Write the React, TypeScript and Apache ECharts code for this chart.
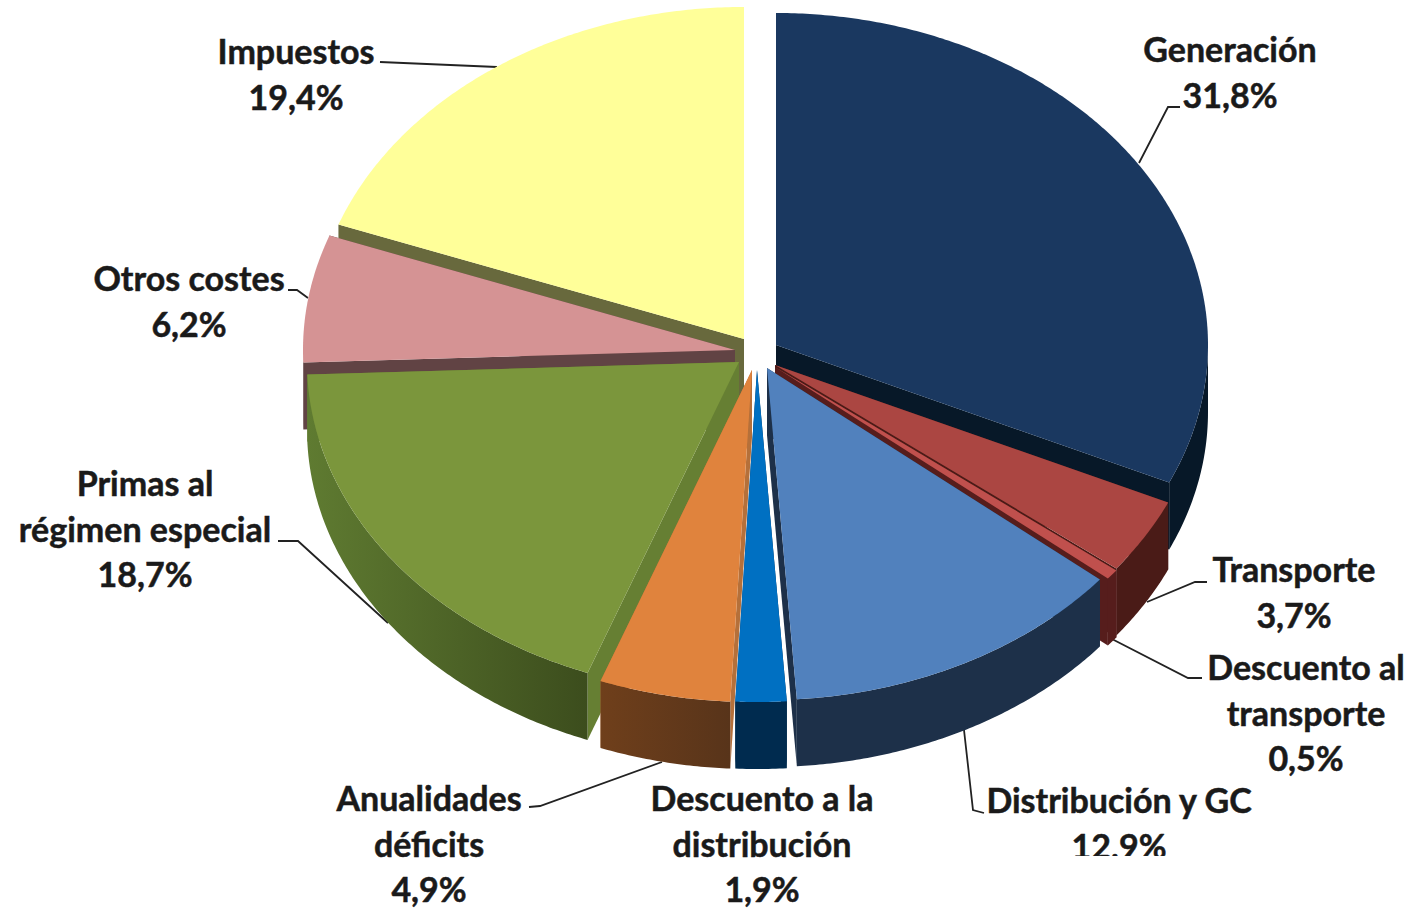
import React, { useEffect, useRef } from "react";
import * as echarts from "echarts";

const names = [
  "Generación",
  "Transporte",
  "Descuento al\ntransporte",
  "Distribución y GC",
  "Descuento a la\ndistribución",
  "Anualidades\ndéficits",
  "Primas al\nrégimen especial",
  "Otros costes",
  "Impuestos",
];
const shares = [31.8, 3.7, 0.5, 12.9, 1.9, 4.9, 18.7, 6.2, 19.4];

// painter's order: back slices first
const drawOrder = [8, 7, 0, 6, 1, 2, 3, 5, 4];

const WIDTH = 1413;
const HEIGHT = 910;
const CX = 744;
const CY = 345;
const RX = 432;
const RY = 332;
const DEPTH = 67;

// how far each slice is pulled out of the centre
const explodeX = [32, 31, 31, 23, 13, 8, -5, -9, 0];
const explodeY = [0, 20, 22, 23, 25, 25, 17, 5, -6];

const topColors = ["#1a3860", "#ab4642", "#c0504d", "#5181bd", "#0070c2", "#e0833d", "#7b963c", "#d59394", "#ffff99"];
const wallColors = ["#071828", "#4a1b17", "#561d1c", "#1d3049", "#002b4f", "#b5703a", "#667f33", "#614344", "#68693d"];
const rimLeft = ["#071828", "#4a1b17", "#561d1c", "#1d3049", "#002b4f", "#6f3f1b", "#5f7b31", "#614344", "#68693d"];
const rimRight = ["#071828", "#4a1b17", "#561d1c", "#1d3049", "#002b4f", "#58341a", "#3c4d1d", "#614344", "#68693d"];

const labelX = [1230, 1294, 1306, 1119, 762, 429, 145, 189, 296];
const labelY = [26, 546, 644, 777, 775, 775, 460, 255, 28];
const leaders = [
  [[1180, 107], [1168, 107], [1139, 163]],
  [[1207, 582], [1195, 582], [1147, 602]],
  [[1110, 638], [1188, 678], [1202, 678]],
  [[964, 730], [973, 810], [984, 813]],
  [],
  [[529, 807], [540, 806], [662, 762]],
  [[278, 541], [298, 541], [388, 623]],
  [[288, 290], [297, 290], [308, 298]],
  [[380, 62], [497, 67]],
];

const total = shares.reduce((a, b) => a + b, 0);
const cumulative: number[] = [];
shares.reduce((acc, v, i) => {
  cumulative[i] = acc;
  return acc + v;
}, 0);

const percentText = (v: number) => v.toFixed(1).replace(".", ",") + "%";

function renderSlice(_params: any, api: any) {
  const i = api.value(0) as number;
  const start = (api.value(1) / total) * 360;
  const end = ((api.value(1) + api.value(2)) / total) * 360;
  const ax = CX + explodeX[i];
  const ay = CY + explodeY[i];
  const rim = (deg: number): number[] => {
    const t = (deg * Math.PI) / 180;
    return [ax + RX * Math.sin(t), ay - RY * Math.cos(t)];
  };
  const arc = (a: number, b: number): number[][] => {
    const n = Math.max(2, Math.ceil((b - a) / 0.5));
    const pts: number[][] = [];
    for (let k = 0; k <= n; k++) pts.push(rim(a + ((b - a) * k) / n));
    return pts;
  };
  const down = (p: number[]) => [p[0], p[1] + DEPTH];
  const mid = rim((start + end) / 2);

  const wall = (deg: number) => {
    const p = rim(deg);
    const dx = p[0] - ax;
    const dy = p[1] - ay;
    const inner = dx * (mid[1] - ay) - dy * (mid[0] - ax);
    const below = dx;
    return {
      visible: inner * below < 0,
      el: {
        type: "polygon",
        shape: { points: [[ax, ay], p, down(p), [ax, ay + DEPTH]] },
        style: { fill: wallColors[i] },
      },
    };
  };
  const walls = [wall(start), wall(end)];
  const children: any[] = [];
  walls.filter((w) => !w.visible).forEach((w) => children.push(w.el));
  walls.filter((w) => w.visible).forEach((w) => children.push(w.el));

  const a = Math.max(start, 90);
  const b = Math.min(end, 270);
  if (b > a) {
    const edge = arc(a, b);
    children.push({
      type: "polygon",
      shape: { points: [...edge, ...edge.map(down).reverse()] },
      style: {
        fill: new echarts.graphic.LinearGradient(0, 0, 1, 0, [
          { offset: 0, color: rimLeft[i] },
          { offset: 1, color: rimRight[i] },
        ]),
      },
    });
  }
  children.push({
    type: "polygon",
    shape: { points: [[ax, ay], ...arc(start, end)] },
    style: { fill: topColors[i] },
  });
  return { type: "group", children };
}

export default function App() {
  const ref = useRef<HTMLDivElement>(null);
  useEffect(() => {
    document.body.style.margin = "0";
    const chart = echarts.init(ref.current!, undefined, { renderer: "svg" });
    const graphics: any[] = [];
    leaders.forEach((pts) => {
      if (pts.length)
        graphics.push({
          type: "polyline",
          z: 5,
          shape: { points: pts },
          style: { stroke: "#222", lineWidth: 1.8, fill: "none" },
        });
    });
    names.forEach((name, i) => {
      graphics.push({
        type: "text",
        z: 10,
        x: labelX[i],
        y: labelY[i],
        style: {
          text: name + "\n" + percentText(shares[i]),
          fontFamily: "Lato",
          fontWeight: "bold",
          fontSize: 34,
          lineHeight: 45.5,
          fill: "#1a1a1a",
          stroke: "#1a1a1a",
          lineWidth: 0.5,
          align: "center",
          verticalAlign: "top",
        },
      });
    });
    // the reference cuts the last line of one label off
    graphics.push({
      type: "rect",
      z: 20,
      shape: { x: 1060, y: 856, width: 130, height: 30 },
      style: { fill: "#ffffff" },
    });
    chart.setOption({
      animation: false,
      backgroundColor: "#ffffff",
      graphic: graphics,
      series: [
        {
          type: "custom",
          coordinateSystem: "none",
          silent: true,
          z: 8,
          renderItem: renderSlice,
          data: drawOrder.map((i) => [i, cumulative[i], shares[i]]),
        },
      ],
    });
    return () => chart.dispose();
  }, []);
  return <div ref={ref} style={{ position: "absolute", left: 0, top: 0, width: WIDTH, height: HEIGHT }} />;
}
